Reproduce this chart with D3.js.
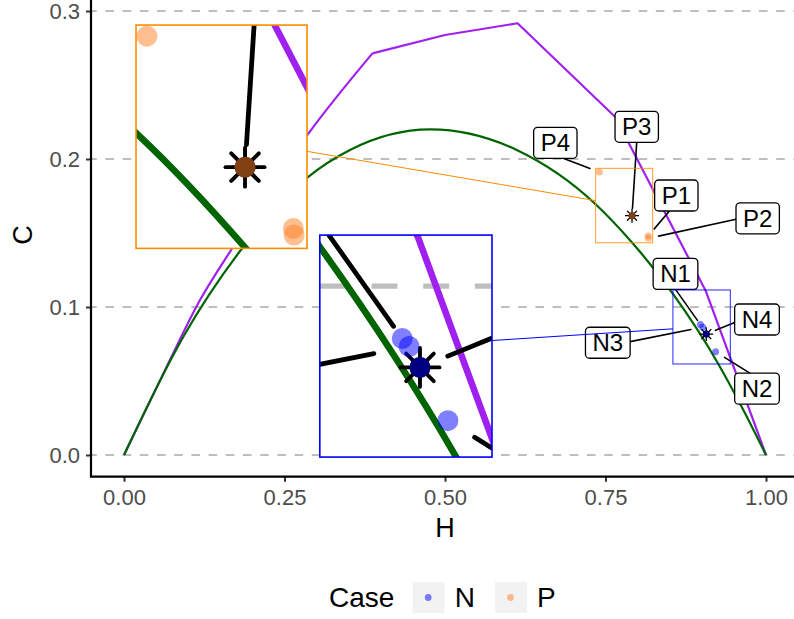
<!DOCTYPE html>
<html>
<head>
<meta charset="utf-8">
<script src="https://cdn.jsdelivr.net/npm/d3@7"></script>
<style>
  body { margin: 0; background: #fff; }
  svg { display: block; font-family: "Liberation Sans", Arial, Helvetica, sans-serif; }
</style>
</head>
<body>
<svg id="chart" width="794" height="619"></svg>
<script>
// bounds of the complexity-entropy plane (H, C)
const maxLeft  = [[0, 0], [0.0665, 0.0597], [0.1184, 0.1047], [0.1678, 0.1392], [0.2855, 0.2162], [0.387, 0.2714]];
const maxRight = [[0.387, 0.2714], [0.5, 0.2838], [0.613, 0.2917], [0.7648, 0.2286], [0.906, 0.111], [1, 0]];
const minCurve = [[0, 0], [0.0924, 0.0799], [0.1859, 0.1407], [0.2866, 0.1878], [0.352, 0.2061], [0.477, 0.220],
                  [0.6117, 0.2061], [0.735, 0.1693], [0.7913, 0.1436], [0.8551, 0.1088], [0.9262, 0.0612],
                  [0.9647, 0.0304], [1, 0]];

// cases
const caseLabels = ['N1', 'N2', 'N3', 'N4', 'P1', 'P2', 'P3', 'P4'];
const caseGroup  = ['N', 'N', 'N', 'N', 'P', 'P', 'P', 'P'];
const caseH      = [0.8978, 0.9215, 0.9014, 0.9070, 0.8164, 0.8168, 0.7913, 0.7404];
const caseC      = [0.0882, 0.0697, 0.0864, 0.0817, 0.1479, 0.1464, 0.1617, 0.1912];
const caseStar   = [false, false, false, true, false, false, true, false];

// zoom windows (data units) and where the enlarged copy goes
const zoomGroup   = ['P', 'N'];
const zoomH       = [[0.7347, 0.8235], [0.855, 0.9444]];
const zoomC       = [[0.1434, 0.1937], [0.0615, 0.1115]];
const insetLeftH  = [0.0187, 0.305];
const insetTopC   = [0.2905, 0.1486];
const zoomFactor  = 3;

const xTicks = [0, 0.25, 0.5, 0.75, 1];
const yTicks = [0, 0.1, 0.2, 0.3];
const legendKeys = ['N', 'P'];

// ---- layout / style ----
const panelLeft = 91, panelBottom = 476.7, panelRight = 794;
const groupColor = { N: '#0000FF', P: '#FF7F24' };
const frameColor = { N: '#0000FF', P: '#FF8C00' };
// repelled label placement: centre offset from the point (px),
// where the leader leaves the box (fraction of half width / half height), gap at the point (px)
const labelNudge  = [[-24.9, -50.6], [41.4, 36.8], [-94.9, 15.6], [50.7, -14.6],
                     [28.2, -40.6], [109.3, -20], [4.7, -88.9], [-44, -29.2]];
const labelAnchor = [[0, 1], [-0.32, -1], [1, -0.07], [-1, 0.2],
                     [-0.32, 1], [-1, 0.06], [0, 1], [0.36, 1]];
const segGap      = [5, 10.5, 12, 10, 9.5, 10.5, 7.5, 10];

const x = d3.scaleLinear().domain([0, 1]).range([124, 766]);
const y = d3.scaleLinear().domain([0, 0.3]).range([455, 11]);

const svg = d3.select('#chart');
const cases = caseLabels.map((l, i) => ({
  label: l, group: caseGroup[i], star: caseStar[i],
  px: x(caseH[i]), py: y(caseC[i])
}));

// label boxes and leader segments
const meas = svg.append('text').attr('font-size', 24);
cases.forEach((d, i) => {
  meas.text(d.label);
  const bw = meas.node().getComputedTextLength() + 14, bh = 31;
  d.cx = d.px + labelNudge[i][0]; d.cy = d.py + labelNudge[i][1];
  d.bx0 = d.cx - bw / 2; d.by0 = d.cy - bh / 2; d.bw = bw; d.bh = bh;
  const sx = d.cx + labelAnchor[i][0] * bw / 2, sy = d.cy + labelAnchor[i][1] * bh / 2;
  const len = Math.hypot(sx - d.px, sy - d.py), gap = segGap[i];
  d.seg = [sx, sy, d.px + (sx - d.px) * gap / len, d.py + (sy - d.py) * gap / len];
});
meas.remove();

function drawContent(g, withLabels) {
  // dashed grid
  g.selectAll('.grid').data(yTicks).enter().append('line')
    .attr('x1', panelLeft).attr('x2', panelRight)
    .attr('y1', d => y(d)).attr('y2', d => y(d))
    .attr('stroke', '#BEBEBE').attr('stroke-width', 1.8)
    .attr('stroke-dasharray', '8.6,8.6').attr('stroke-dashoffset', 2.8);

  const line = d3.line().x(d => x(d[0])).y(d => y(d[1]));
  g.append('path').attr('d', line.curve(d3.curveMonotoneX)(maxLeft))
    .attr('fill', 'none').attr('stroke', '#A020F0').attr('stroke-width', 2.2);
  g.append('path').attr('d', line.curve(d3.curveLinear)(maxRight))
    .attr('fill', 'none').attr('stroke', '#A020F0').attr('stroke-width', 2.2).attr('stroke-linejoin', 'round');
  g.append('path').attr('d', line.curve(d3.curveMonotoneX)(minCurve))
    .attr('fill', 'none').attr('stroke', '#006400').attr('stroke-width', 2.2);

  g.selectAll('.seg').data(cases).enter().append('line')
    .attr('x1', d => d.seg[0]).attr('y1', d => d.seg[1])
    .attr('x2', d => d.seg[2]).attr('y2', d => d.seg[3])
    .attr('stroke', '#000').attr('stroke-width', 1.6).attr('stroke-linecap', 'round');

  // star markers (under the points)
  const stars = g.selectAll('.star').data(cases.filter(d => d.star)).enter().append('g')
    .attr('transform', d => `translate(${d.px},${d.py})`);
  stars.append('circle').attr('r', 3.5).attr('fill', '#000');
  [0, 45, 90, 135].forEach(a => {
    stars.append('line').attr('x1', -6.5).attr('x2', 6.5).attr('y1', 0).attr('y2', 0)
      .attr('transform', `rotate(${a})`).attr('stroke', '#000').attr('stroke-width', 1.3).attr('stroke-linecap', 'round');
  });
  g.selectAll('.pt').data(cases).enter().append('circle')
    .attr('cx', d => d.px).attr('cy', d => d.py).attr('r', 3.5)
    .attr('fill', d => groupColor[d.group]).attr('fill-opacity', 0.5);

  if (!withLabels) return;
  const lab = g.selectAll('.lab').data(cases).enter().append('g');
  lab.append('rect')
    .attr('x', d => d.bx0).attr('y', d => d.by0).attr('width', d => d.bw).attr('height', d => d.bh)
    .attr('rx', 4).attr('fill', '#fff').attr('stroke', '#000').attr('stroke-width', 1.3);
  lab.append('text').attr('x', d => d.cx).attr('y', d => d.cy + 8.5)
    .attr('text-anchor', 'middle').attr('font-size', 24).attr('fill', '#000').text(d => d.label);
}

drawContent(svg.append('g'), true);

// zoom windows, connectors and insets
function edgePoint(b, tx, ty) {
  const cx = (b.x0 + b.x1) / 2, cy = (b.y0 + b.y1) / 2;
  const dx = tx - cx, dy = ty - cy;
  const t = Math.min((b.x1 - b.x0) / 2 / Math.abs(dx || 1e-9), (b.y1 - b.y0) / 2 / Math.abs(dy || 1e-9));
  return [cx + dx * t, cy + dy * t];
}
const defs = svg.append('defs');
zoomGroup.forEach((grp, i) => {
  const small = { x0: x(zoomH[i][0]), x1: x(zoomH[i][1]), y0: y(zoomC[i][1]), y1: y(zoomC[i][0]) };
  const ix0 = x(insetLeftH[i]), iy0 = y(insetTopC[i]);
  const inset = { x0: ix0, x1: ix0 + (small.x1 - small.x0) * zoomFactor,
                  y0: iy0, y1: iy0 + (small.y1 - small.y0) * zoomFactor };
  const col = frameColor[grp];

  svg.append('rect').attr('x', small.x0).attr('y', small.y0)
    .attr('width', small.x1 - small.x0).attr('height', small.y1 - small.y0)
    .attr('fill', 'none').attr('stroke', col).attr('stroke-width', 1).attr('stroke-opacity', 0.85);

  const a = edgePoint(inset, (small.x0 + small.x1) / 2, (small.y0 + small.y1) / 2);
  const b = edgePoint(small, (inset.x0 + inset.x1) / 2, (inset.y0 + inset.y1) / 2);
  svg.append('line').attr('x1', a[0]).attr('y1', a[1]).attr('x2', b[0]).attr('y2', b[1])
    .attr('stroke', col).attr('stroke-width', 1);

  defs.append('clipPath').attr('id', 'clip' + i).append('rect')
    .attr('x', inset.x0).attr('y', inset.y0)
    .attr('width', inset.x1 - inset.x0).attr('height', inset.y1 - inset.y0);
  svg.append('rect').attr('x', inset.x0).attr('y', inset.y0)
    .attr('width', inset.x1 - inset.x0).attr('height', inset.y1 - inset.y0).attr('fill', '#fff');
  const inner = svg.append('g').attr('clip-path', `url(#clip${i})`).append('g')
    .attr('transform', `translate(${inset.x0},${inset.y0}) scale(${zoomFactor}) translate(${-small.x0},${-small.y0})`);
  drawContent(inner, false);
  svg.append('rect').attr('x', inset.x0).attr('y', inset.y0)
    .attr('width', inset.x1 - inset.x0).attr('height', inset.y1 - inset.y0)
    .attr('fill', 'none').attr('stroke', col).attr('stroke-width', 1.6);
});

// axes
const xAxis = svg.append('g').attr('transform', `translate(0,${panelBottom})`)
  .call(d3.axisBottom(x).tickValues(xTicks).tickFormat(d3.format('.2f')).tickSize(5).tickPadding(8));
const yAxis = svg.append('g').attr('transform', `translate(${panelLeft},0)`)
  .call(d3.axisLeft(y).tickValues(yTicks).tickFormat(d3.format('.1f')).tickSize(5).tickPadding(6));
[xAxis, yAxis].forEach(ax => {
  ax.select('.domain').remove();
  ax.selectAll('.tick line').attr('stroke', '#333').attr('stroke-width', 2);
  ax.selectAll('.tick text').attr('font-size', 22).attr('fill', '#4D4D4D')
    .attr('font-family', '"Liberation Sans", Arial, Helvetica, sans-serif');
});
svg.append('path')
  .attr('d', `M${panelLeft},0 L${panelLeft},${panelBottom} L${panelRight},${panelBottom}`)
  .attr('fill', 'none').attr('stroke', '#000').attr('stroke-width', 2.2).attr('stroke-linecap', 'square');

svg.append('text').attr('x', 445).attr('y', 537).attr('text-anchor', 'middle')
  .attr('font-size', 27).attr('fill', '#000').text('H');
svg.append('text').attr('transform', 'translate(32,235) rotate(-90)').attr('text-anchor', 'middle')
  .attr('font-size', 27).attr('fill', '#000').text('C');

// legend
const leg = svg.append('g');
leg.append('text').attr('x', 329).attr('y', 607).attr('font-size', 28).text('Case');
const keyX = [412.7, 495];
legendKeys.forEach((k, i) => {
  leg.append('rect').attr('x', keyX[i]).attr('y', 582).attr('width', 32).attr('height', 31).attr('fill', '#F2F2F2');
  leg.append('circle').attr('cx', keyX[i] + 15.5).attr('cy', 597.5).attr('r', 3.4)
    .attr('fill', groupColor[k]).attr('fill-opacity', 0.5);
  leg.append('text').attr('x', keyX[i] + 42).attr('y', 607).attr('font-size', 28).text(k);
});
</script>
</body>
</html>
